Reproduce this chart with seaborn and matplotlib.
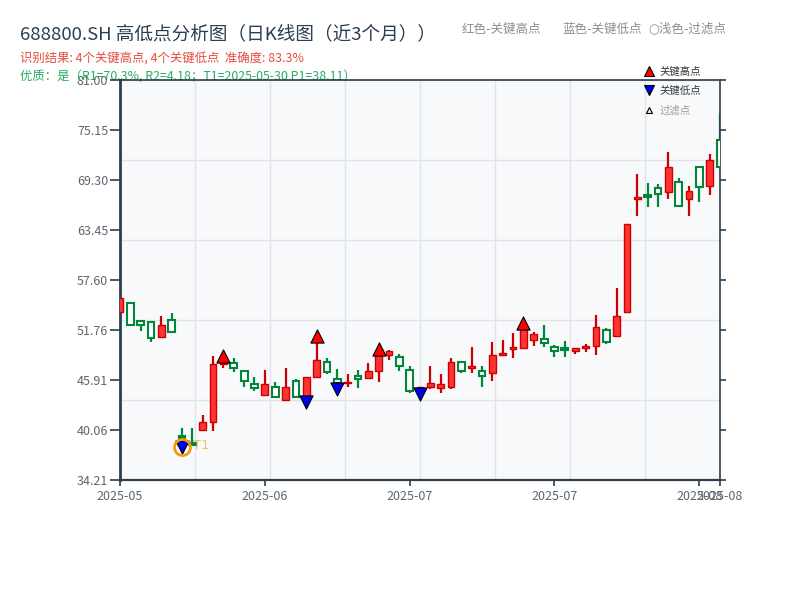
import numpy as np
import pandas as pd
import matplotlib
matplotlib.use('Agg')
import matplotlib.pyplot as plt
import seaborn as sns
from matplotlib.lines import Line2D

# daily OHLC (59 trading days)
opens = [53.90, 54.88, 52.84, 52.66, 50.97, 52.93, 39.40, 38.50, 40.06, 40.96,
         47.80, 47.86, 47.00, 45.40, 44.12, 45.12, 43.57, 45.83, 43.95, 46.22,
         48.05, 45.99, 45.55, 46.37, 46.18, 47.00, 48.83, 48.56, 47.08, 44.74,
         45.05, 44.94, 45.05, 48.05, 47.28, 47.00, 46.76, 48.87, 49.50, 49.61,
         50.59, 50.76, 49.71, 49.69, 49.30, 49.61, 49.92, 51.76, 51.05, 53.83,
         67.04, 67.51, 68.40, 67.93, 69.03, 67.04, 70.79, 68.63, 73.98]
highs = [55.50, 54.95, 52.90, 52.70, 53.39, 53.71, 40.26, 40.26, 41.81, 48.71,
         48.70, 48.45, 47.10, 46.30, 47.08, 45.71, 47.28, 45.99, 46.30, 51.00,
         48.45, 47.16, 46.61, 47.08, 47.93, 49.50, 49.47, 48.91, 47.54, 45.10,
         47.54, 46.61, 48.45, 48.10, 49.73, 47.54, 50.32, 50.59, 51.37, 52.54,
         51.52, 52.34, 50.00, 50.47, 49.65, 50.08, 53.51, 51.96, 56.63, 64.12,
         70.00, 68.92, 68.80, 72.54, 69.50, 68.60, 70.94, 72.34, 77.10]
lows = [53.85, 52.30, 51.67, 50.39, 50.90, 51.45, 38.11, 38.30, 40.00, 39.98,
        47.28, 46.88, 45.05, 44.66, 44.05, 43.77, 43.50, 43.77, 43.30, 46.15,
        46.61, 44.85, 45.05, 44.94, 46.10, 45.71, 48.25, 47.00, 44.42, 44.30,
        44.82, 44.35, 44.82, 46.69, 46.76, 45.13, 45.83, 48.71, 48.45, 49.50,
        49.92, 49.80, 48.60, 48.56, 48.91, 49.22, 48.83, 50.08, 51.00, 53.83,
        65.13, 66.11, 66.18, 67.04, 66.18, 65.13, 66.76, 67.55, 70.70]
closes = [55.46, 52.34, 52.34, 50.78, 52.34, 51.49, 39.08, 38.35, 40.96, 47.74,
          47.90, 47.28, 45.79, 44.94, 45.40, 43.88, 45.12, 43.95, 46.22, 48.25,
          46.88, 45.52, 45.62, 45.99, 46.96, 48.83, 49.30, 47.54, 44.66, 45.05,
          45.52, 45.40, 47.98, 47.00, 47.54, 46.37, 48.83, 49.10, 49.73, 51.84,
          51.29, 50.20, 49.33, 49.42, 49.61, 49.92, 52.14, 50.32, 53.43, 64.12,
          67.28, 67.28, 67.66, 70.86, 66.30, 68.02, 68.45, 71.64, 70.79]

key_high_idx = [10, 19, 25, 39]
key_low_idx = [6, 18, 21, 29]
t1_idx = 6

tick_idx = [0, 14, 28, 42, 56, 58]
tick_labels = ['2025-05', '2025-06', '2025-07', '2025-07', '2025-08', '2025-08']
ytick_labels = ['34.21', '40.06', '45.91', '51.76', '57.60', '63.45', '69.30', '75.15', '81.00']

sns.set_theme(style='white')
plt.rcParams['font.family'] = ['Noto Sans CJK SC', 'DejaVu Sans']
plt.rcParams['axes.unicode_minus'] = False

df = pd.DataFrame({'open': opens, 'high': highs, 'low': lows, 'close': closes})
df['idx'] = np.arange(len(df))
df['up'] = df['close'] >= df['open']
df['body'] = (df['close'] - df['open']).abs().clip(lower=0.12)
df['bottom'] = df[['open', 'close']].min(axis=1)

RED_FILL, RED_EDGE = '#ff3333', '#cc0000'
GREEN = '#00873c'
DARK = '#2c3e50'
BG = '#f8f9fb'

fig = plt.figure(figsize=(8, 6), dpi=100)
pos = [0.15, 0.2, 0.75, 0.6667]

# background panel with its own grid
bg = fig.add_axes(pos, zorder=0)
bg.set_facecolor(BG)
bg.set_xlim(0, 1)
bg.set_ylim(0, 1)
bg.set_xticks(np.linspace(0, 1, 9))
bg.set_yticks(np.linspace(0, 1, 6))
bg.grid(True, color='#e0e3e8', lw=1)
bg.tick_params(length=0, labelbottom=False, labelleft=False)
for s in bg.spines.values():
    s.set_visible(False)

ax = fig.add_axes(pos, zorder=1)
ax.set_facecolor('none')

up = df[df['up']]
dn = df[~df['up']]
ax.vlines(up['idx'], up['low'], up['high'], color=RED_EDGE, lw=1.6, zorder=2)
ax.vlines(dn['idx'], dn['low'], dn['high'], color=GREEN, lw=1.6, zorder=2)
ax.bar(up['idx'], up['body'], bottom=up['bottom'], width=0.65,
       color=RED_FILL, edgecolor=RED_EDGE, lw=1, zorder=3)
ax.bar(dn['idx'], dn['body'], bottom=dn['bottom'], width=0.65,
       color='white', edgecolor=GREEN, lw=1.5, zorder=3)

kh = df.loc[key_high_idx]
kl = df.loc[key_low_idx]
sns.scatterplot(x=kh['idx'], y=kh['high'], marker='^', s=90, color='#ff0000',
                edgecolor='black', linewidth=0.8, ax=ax, zorder=5, legend=False)
sns.scatterplot(x=kl['idx'], y=kl['low'], marker='v', s=90, color='#0000ee',
                edgecolor='black', linewidth=0.8, ax=ax, zorder=5, legend=False)

# T1 ring
ax.plot(t1_idx, lows[t1_idx], marker='o', ms=11.5, mfc='none', mec='#f39c12',
        mew=2, zorder=6)
ax.annotate('T1', (t1_idx, lows[t1_idx]), xytext=(8, 1), textcoords='offset points',
            color='#f5b041', alpha=0.8, fontsize=9.5, va='center', zorder=6,
            family=['DejaVu Sans'])

ax.set_xlim(0, 58)
ax.set_ylim(34.21, 81.0)
ax.set_xticks(tick_idx, tick_labels)
ax.set_yticks(np.linspace(34.21, 81.0, 9), ytick_labels)
ax.tick_params(axis='x', bottom=True, direction='out', length=4.5, width=1.2,
               color=DARK, labelcolor='#5d6670', labelsize=9, pad=3)
ax.tick_params(axis='y', left=True, direction='out', length=7.5, width=1.2,
               color=DARK, labelcolor='#5d6670', labelsize=9, pad=1)
ax.grid(False)
ax.set_xlabel('')
ax.set_ylabel('')
for name, lw in [('left', 2.0), ('bottom', 1.6), ('right', 1.2), ('top', 1.2)]:
    ax.spines[name].set_color(DARK)
    ax.spines[name].set_linewidth(lw)

ax2 = ax.twinx()
ax2.set_ylim(0, 8)
ax2.set_yticks(range(9))
ax2.tick_params(axis='y', right=True, direction='out', length=4, width=1.2,
                color=DARK, labelright=False)
ax2.grid(False)
for s in ax2.spines.values():
    s.set_visible(False)

# titles
fig.text(0.025, 1 - 34 / 600, '688800.SH 高低点分析图（日K线图（近3个月））',
         fontsize=13.4, color='#2c3e50', va='center', ha='left')
fig.text(0.025, 1 - 59 / 600, '识别结果: 4个关键高点, 4个关键低点  准确度: 83.3%',
         fontsize=8.9, color='#e74c3c', va='center', ha='left')
fig.text(0.025, 1 - 76 / 600, '优质：是（R1=70.3%, R2=4.18；T1=2025-05-30 P1=38.11）',
         fontsize=8.9, color='#27ae60', va='center', ha='left', zorder=0)

head_font = ['DejaVu Sans', 'Noto Sans CJK SC']
fig.text(462 / 800, 1 - 29 / 600, '红色-关键高点', fontsize=9, color='#8a8f96',
         va='center', family=head_font)
fig.text(562 / 800, 1 - 29 / 600, '蓝色-关键低点', fontsize=9, color='#8a8f96',
         va='center', family=head_font)
fig.text(648 / 800, 1 - 29 / 600, '○浅色-过滤点', fontsize=9, color='#8a8f96',
         va='center', family=head_font)

handles = [
    Line2D([], [], ls='none', marker='^', ms=6.5, mfc='#ff0000', mec='black', mew=0.8, label='关键高点'),
    Line2D([], [], ls='none', marker='v', ms=6.5, mfc='#0000ee', mec='black', mew=0.8, label='关键低点'),
    Line2D([], [], ls='none', marker='^', ms=4.5, mfc='#ffe0e0', mec='black', mew=0.8, label='过滤点'),
]
leg = fig.legend(handles=handles, loc='upper left', bbox_to_anchor=(644 / 800, 1 - 66 / 600),
                 frameon=False, fontsize=7.5, handlelength=1.0, handletextpad=0.5,
                 labelspacing=0.9, borderpad=0, borderaxespad=0)
leg.get_texts()[0].set_color('#333333')
leg.get_texts()[1].set_color('#333333')
leg.get_texts()[2].set_color('#999999')

fig.savefig('out.png', dpi=100)
